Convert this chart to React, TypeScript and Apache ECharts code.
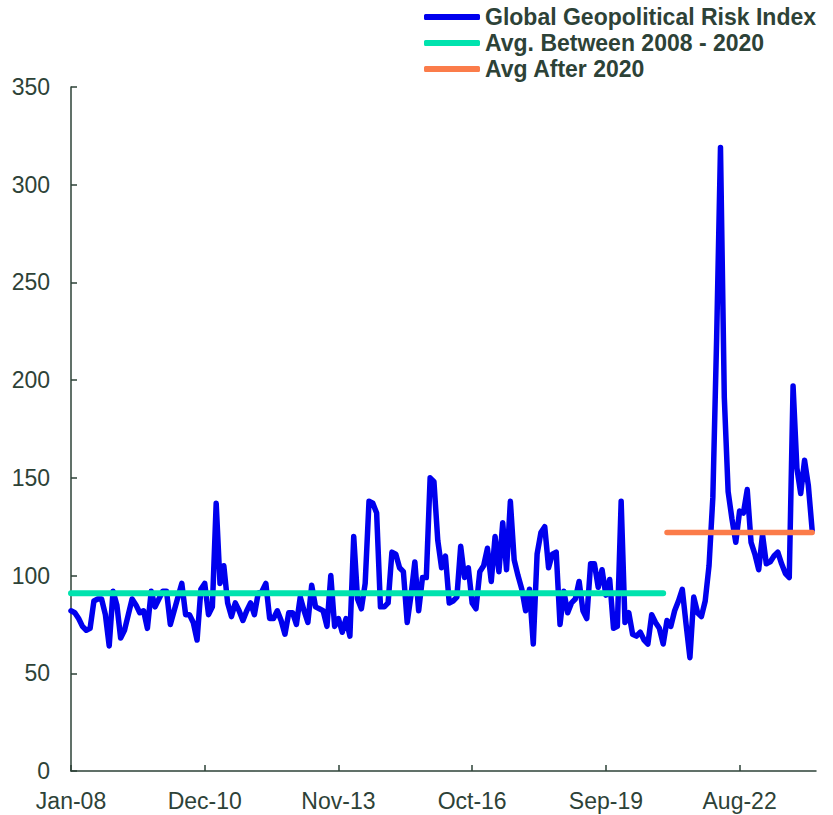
import React, { useEffect, useRef } from "react";
import * as echarts from "echarts";

// ---- Data (monthly Global Geopolitical Risk Index, Jan 2008 – Mar 2024) ----
const monthNames = ["Jan", "Feb", "Mar", "Apr", "May", "Jun", "Jul", "Aug", "Sep", "Oct", "Nov", "Dec"];
const startYear = 2008;
const axisMonthCount = 196; // axis runs Jan-08 .. Apr-24

const gpr2008 = [82, 81, 78, 74, 72, 73, 87, 88, 88, 80, 64, 92];
const gpr2009 = [85, 68, 72, 80, 88, 85, 81, 82, 73, 92, 84, 88];
const gpr2010 = [92, 92, 75, 82, 89, 96, 80, 80, 76, 67, 93, 96];
const gpr2011 = [80, 84, 137, 96, 105, 86, 79, 86, 82, 77, 82, 86];
const gpr2012 = [80, 91, 92, 96, 78, 78, 82, 77, 70, 81, 81, 75];
const gpr2013 = [89, 82, 76, 95, 84, 83, 82, 74, 100, 74, 78, 71];
const gpr2014 = [78, 69, 120, 88, 83, 96, 138, 137, 132, 84, 84, 86];
const gpr2015 = [112, 111, 104, 102, 76, 90, 107, 82, 99, 99, 150, 148];
const gpr2016 = [118, 104, 110, 86, 87, 89, 115, 99, 104, 86, 83, 102];
const gpr2017 = [105, 114, 97, 120, 102, 127, 103, 138, 108, 100, 93, 82];
const gpr2018 = [93, 65, 111, 122, 125, 104, 111, 112, 75, 92, 81, 86];
const gpr2019 = [88, 97, 82, 78, 106, 106, 94, 103, 90, 98, 73, 74];
const gpr2020 = [138, 76, 81, 70, 69, 71, 67, 65, 80, 76, 73, 65];
const gpr2021 = [77, 74, 82, 87, 93, 75, 58, 89, 81, 79, 87, 105];
const gpr2022 = [140, 222, 319, 191, 143, 129, 117, 133, 132, 144, 117, 111];
const gpr2023 = [103, 121, 106, 107, 110, 112, 106, 101, 99, 197, 155, 142];
const gpr2024 = [159, 146, 123];

const avg2008to2020 = 91;
const avgAfter2020 = 122;
const lastMonth2020Index = 155; // Dec-20

const seriesNames = ["Global Geopolitical Risk Index", "Avg. Between 2008 - 2020", "Avg After 2020"];

const categories: string[] = [];
for (let i = 0; i < axisMonthCount; i++) {
  const y = startYear + Math.floor(i / 12);
  categories.push(`${monthNames[i % 12]}-${String(y % 100).padStart(2, "0")}`);
}

const gprIndex = [
  ...gpr2008, ...gpr2009, ...gpr2010, ...gpr2011, ...gpr2012, ...gpr2013, ...gpr2014,
  ...gpr2015, ...gpr2016, ...gpr2017, ...gpr2018, ...gpr2019, ...gpr2020, ...gpr2021,
  ...gpr2022, ...gpr2023, ...gpr2024,
];

const avgBeforeLine = gprIndex.map((_, i) => (i <= lastMonth2020Index ? avg2008to2020 : null));
const avgAfterLine = gprIndex.map((_, i) => (i > lastMonth2020Index ? avgAfter2020 : null));

const FONT = "'Liberation Sans', Arial, sans-serif";
const TEXT_COLOR = "#2D4237";

export default function App() {
  const ref = useRef<HTMLDivElement>(null);

  useEffect(() => {
    if (!ref.current) return;
    const chart = echarts.init(ref.current, undefined, { renderer: "svg" });
    chart.setOption({
      animation: false,
      backgroundColor: "#ffffff",
      textStyle: { fontFamily: FONT },
      legend: {
        orient: "vertical",
        left: 424,
        top: 4,
        padding: 0,
        itemWidth: 56,
        itemHeight: 6,
        itemGap: 0,
        icon: "roundRect",
        data: seriesNames,
        textStyle: {
          fontFamily: FONT,
          fontSize: 23,
          fontWeight: "bold",
          color: TEXT_COLOR,
          lineHeight: 26,
        },
      },
      grid: { left: 71, right: 17, top: 87, bottom: 44, containLabel: false },
      xAxis: {
        type: "category",
        data: categories,
        boundaryGap: false,
        axisLine: { show: true, lineStyle: { color: TEXT_COLOR, width: 1.5 } },
        axisTick: { show: true, inside: true, length: 6, interval: 34, lineStyle: { color: TEXT_COLOR, width: 1.5 } },
        axisLabel: { interval: 34, margin: 18, fontSize: 23, color: TEXT_COLOR, fontFamily: FONT },
        splitLine: { show: false },
      },
      yAxis: {
        type: "value",
        min: 0,
        max: 350,
        interval: 50,
        axisLine: { show: true, lineStyle: { color: TEXT_COLOR, width: 1.5 } },
        axisTick: { show: true, inside: true, length: 6, lineStyle: { color: TEXT_COLOR, width: 1.5 } },
        axisLabel: { margin: 21, fontSize: 23, color: TEXT_COLOR, fontFamily: FONT },
        splitLine: { show: false },
      },
      series: [
        {
          name: seriesNames[0],
          type: "line",
          data: gprIndex,
          showSymbol: false,
          symbol: "none",
          color: "#0000EE",
          lineStyle: { width: 5.5, color: "#0000EE", cap: "round", join: "round" },
          z: 2,
        },
        {
          name: seriesNames[1],
          type: "line",
          data: avgBeforeLine,
          showSymbol: false,
          symbol: "none",
          color: "#00E3AE",
          lineStyle: { width: 6, color: "#00E3AE", cap: "round" },
          z: 3,
        },
        {
          name: seriesNames[2],
          type: "line",
          data: avgAfterLine,
          showSymbol: false,
          symbol: "none",
          color: "#FB7C4A",
          lineStyle: { width: 5.5, color: "#FB7C4A", cap: "round" },
          z: 3,
        },
      ],
    });
    return () => chart.dispose();
  }, []);

  return (
    <div
      ref={ref}
      style={{ position: "absolute", left: 0, top: 0, width: 833, height: 815 }}
    />
  );
}
